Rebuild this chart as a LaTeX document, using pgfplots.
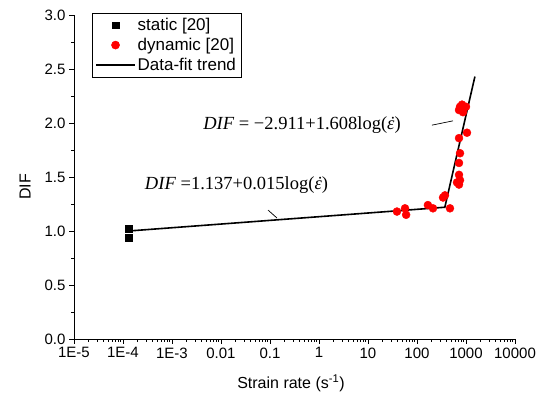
\documentclass[border=0pt]{standalone}
\usepackage{fontspec}
\setmainfont{Liberation Sans}
\newfontfamily\eqfont{Liberation Serif}
\usepackage{pgfplots}
\pgfplotsset{compat=1.18}
% epsilon with a dot over it, in the equation font
\newcommand{\epsdot}{\makebox[0pt][l]{\hspace{0.14em}˙}\textit{ε}}

\begin{document}
\begin{tikzpicture}
\begin{axis}[
    scale only axis,
    width=441pt, height=324pt,
    xmode=log,
    xmin=1e-5, xmax=1e4,
    ymin=0, ymax=3,
    axis x line*=bottom,
    axis y line*=left,
    axis line style={line width=0.8pt},
    tick align=outside,
    major tick length=5pt,
    minor tick length=3pt,
    tick style={black, line width=0.8pt},
    xtick={1e-5,1e-4,1e-3,1e-2,1e-1,1,10,100,1000,10000},
    xticklabels={1E-5,1E-4,1E-3,0.01,0.1,1,10,100,1000,10000},
    ytick={0,0.5,1,1.5,2,2.5,3},
    minor y tick num=1,
    yticklabel style={/pgf/number format/.cd, fixed, fixed zerofill, precision=1},
    /pgf/number format/assume math mode=true,
    ticklabel style={font=\fontsize{15}{18}\selectfont},
    xlabel={Strain rate (s\textsuperscript{-1})},
    ylabel={DIF},
    label style={font=\fontsize{16}{19}\selectfont},
    xlabel style={at={(axis description cs:0.492,-0.136)}, anchor=center},
    ylabel style={at={(axis description cs:-0.111,0.47)}, anchor=center},
    legend style={
        at={(axis description cs:0.041,1.006)}, anchor=north west,
        draw=black, line width=0.6pt, fill=white,
        font=\fontsize{17}{20}\selectfont,
        inner xsep=3pt, inner ysep=3pt, row sep=2pt,
    },
    legend cell align=left,
    legend image code/.code={
        \draw[mark repeat=2, mark phase=2, #1]
        plot coordinates {(0cm,0cm) (0.68cm,0cm) (1.36cm,0cm)};
    },
    clip=false,
]
% static tests
\addplot[only marks, mark=square*, mark size=3.3pt, black] coordinates {
    (1.3e-4, 1.02)
    (1.3e-4, 0.94)
};
\addlegendentry{static [20]}

% dynamic tests
\addplot[only marks, mark=*, mark size=4pt, red] coordinates {
    (755, 2.15) (869, 2.10) (1000, 2.15) (720, 2.12) (830, 2.17)
    (1048, 1.91) (720, 1.86)
    (755, 1.72)
    (720, 1.63)
    (720, 1.52) (755, 1.47) (655, 1.45) (720, 1.43)
    (372, 1.33) (340, 1.31)
    (471, 1.21)
    (167, 1.24) (212, 1.21)
    (39, 1.18) (57, 1.21) (60, 1.15)
};
\addlegendentry{dynamic [20]}

% bilinear fit
\addplot[black, line width=1.6pt, mark=none] coordinates {
    (1.3e-4, 1.00)
    (370, 1.22)
    (1520, 2.43)
};
\addlegendentry{Data-fit trend}

\draw[line width=0.7pt] (axis cs:0.091,1.194) -- (axis cs:0.139,1.12);
\draw[line width=0.7pt] (axis cs:202,1.98) -- (axis cs:543,2.02);

\node[font=\eqfont\fontsize{18.5}{21}\selectfont] at (axis cs:0.0207,1.426)
    {\textit{DIF} =1.137+0.015log(\epsdot)};
\node[font=\eqfont\fontsize{18.5}{21}\selectfont] at (axis cs:0.45,1.98)
    {\textit{DIF} = −2.911+1.608log(\epsdot)};
\end{axis}
\pgfresetboundingbox
\useasboundingbox (-74pt,-67pt) rectangle (473pt,339pt);
\end{tikzpicture}
\end{document}
